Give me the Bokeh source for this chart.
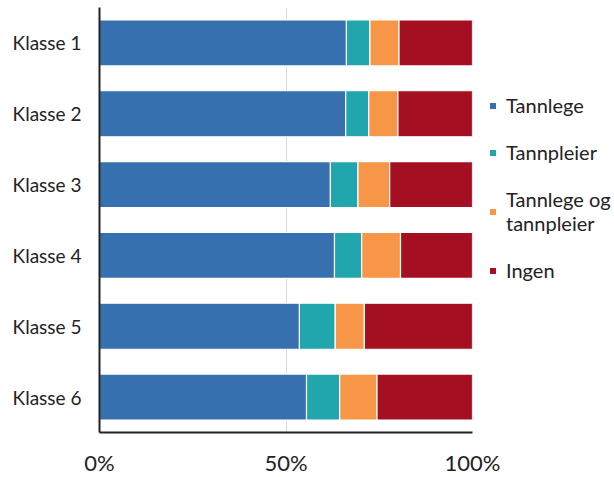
from bokeh.plotting import figure
from bokeh.models import Legend, LegendItem, FactorRange, NumeralTickFormatter, FixedTicker, ColumnDataSource
from bokeh.embed import file_html
from bokeh.resources import INLINE

categories = ["Klasse 1", "Klasse 2", "Klasse 3", "Klasse 4", "Klasse 5", "Klasse 6"]
series_names = ["Tannlege", "Tannpleier", "Tannlege og\ntannpleier", "Ingen"]
tannlege = [66.2, 66.0, 61.9, 63.0, 53.6, 55.5]
tannpleier = [6.3, 6.2, 7.4, 7.3, 9.6, 8.9]
begge = [7.8, 7.8, 8.5, 10.4, 7.8, 10.0]
ingen = [19.7, 20.0, 22.2, 19.3, 29.0, 25.6]
x_ticks = [0, 50, 100]
colors = ["#3670AF", "#22A6AE", "#F79646", "#A50F22"]

FONT = "Lato"
keys = ["tannlege", "tannpleier", "begge", "ingen"]
src = ColumnDataSource(dict(y=categories, tannlege=tannlege, tannpleier=tannpleier,
                            begge=begge, ingen=ingen))

p = figure(frame_width=373, frame_height=425, output_backend="svg", toolbar_location=None,
           y_range=FactorRange(*reversed(categories)), x_range=(0, 100),
           min_border_left=99, min_border_right=0, min_border_top=7, min_border_bottom=20)
renderers = p.hbar_stack(keys, y="y", height=0.65, color=colors, source=src,
                         line_color="white", line_width=1.2)

p.outline_line_color = None
p.ygrid.grid_line_color = None
p.xgrid.grid_line_color = "#d9d9d9"
p.xgrid.ticker = FixedTicker(ticks=x_ticks)
p.xaxis.ticker = FixedTicker(ticks=x_ticks)
p.xaxis.formatter = NumeralTickFormatter(format="0")
p.xaxis.major_label_overrides = {0: "0%", 50: "50%", 100: "100%"}
for ax in (p.xaxis, p.yaxis):
    ax.major_tick_line_color = None
    ax.minor_tick_line_color = None
    ax.major_tick_out = 0
    ax.minor_tick_out = 0
    ax.major_tick_in = 0
    ax.axis_line_color = "#222222"
    ax.axis_line_width = 2
    ax.major_label_text_font = FONT
    ax.major_label_text_color = "#222222"
p.xaxis.major_label_text_font_size = "22px"
p.xaxis.major_label_standoff = 16
p.yaxis.major_label_text_font_size = "19px"
p.yaxis.major_label_standoff = 18

items = [LegendItem(label=n, renderers=[r]) for n, r in zip(series_names, renderers)]
legend = Legend(items=items, location=(16, 150), orientation="vertical",
                label_text_font=FONT, label_text_font_size="20px", label_text_color="#222222",
                label_text_line_height=1.25,
                glyph_width=9, glyph_height=9, label_standoff=9, spacing=23,
                border_line_color=None, background_fill_alpha=0, padding=0, margin=0)
p.add_layout(legend, "right")

open("out.html", "w").write(file_html(p, INLINE))
